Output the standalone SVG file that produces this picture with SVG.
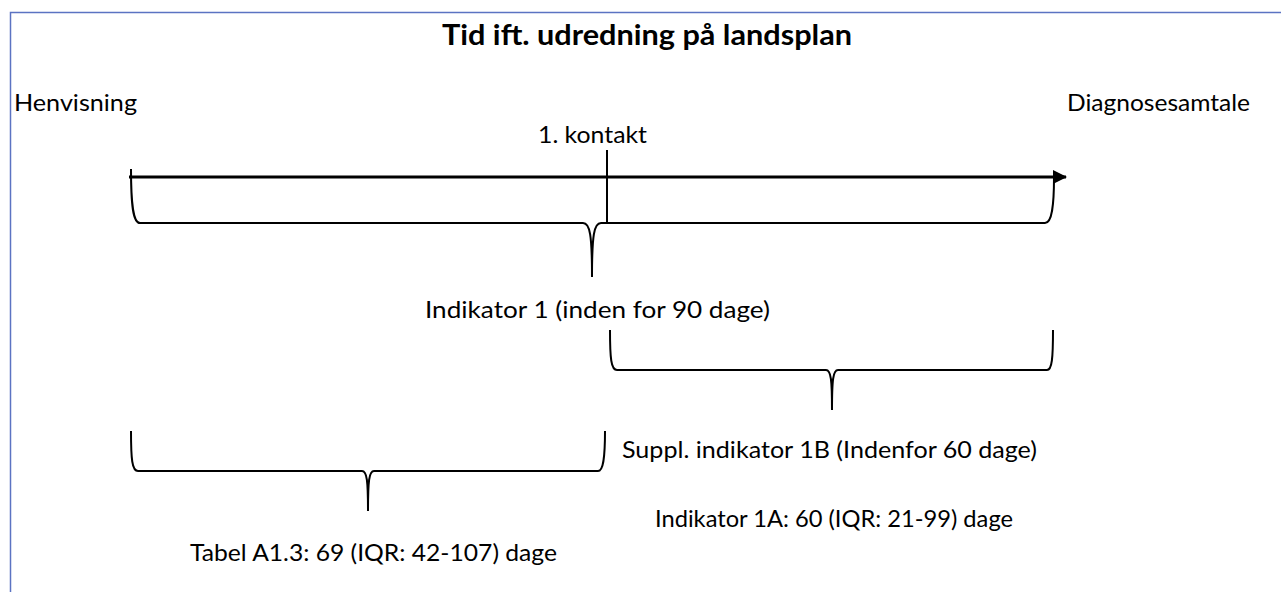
<svg xmlns="http://www.w3.org/2000/svg" width="1281" height="592" viewBox="0 0 1281 592">
<style>
text{font-family:Lato,"Open Sans","Liberation Sans",sans-serif;fill:#000;font-size:24px}
.t{font-weight:bold;font-size:28px}
.b{fill:none;stroke:#000;stroke-width:2}
.ax{fill:none;stroke:#000;stroke-width:3}
</style>
<defs>
<marker id="ah" markerUnits="userSpaceOnUse" markerWidth="14" markerHeight="14" refX="13" refY="7" orient="auto">
<path d="M0,0 L14,7 L0,14 Z" fill="#000"/>
</marker>
</defs>
<rect width="1281" height="592" fill="#fff"/>
<path d="M10.5,592 L10.5,12.5 L1281,12.5" fill="none" stroke="#5B73C2" stroke-width="1.5"/>
<g id="title"><text class="t" x="442" y="45" textLength="410" lengthAdjust="spacingAndGlyphs">Tid ift. udredning på landsplan</text></g>
<g id="henvisning"><text x="14" y="111" textLength="123" lengthAdjust="spacingAndGlyphs">Henvisning</text></g>
<g id="diagnosesamtale"><text x="1067" y="111" textLength="183" lengthAdjust="spacingAndGlyphs">Diagnosesamtale</text></g>
<g id="kontakt"><text x="538" y="143" textLength="109" lengthAdjust="spacingAndGlyphs">1. kontakt</text></g>
<g id="connectors">
<path class="ax" d="M129,177 L1066,177" marker-end="url(#ah)"/>
<path class="b" d="M607,150 L607,223"/>
<path class="b" d="M131,169 C131,205 133,223 140,223 L583,223 C590,223 592,235 592,277 C592,235 594,223 601,223 L1045,223 C1052,223 1054,205 1054,177"/>
<path class="b" d="M610,330 C610,358 611,370 617,370 L826,370 C831,370 832,380 832,410 C832,380 833,370 838,370 L1047,370 C1052,370 1053,358 1053,330"/>
<path class="b" d="M131,431 C131,459 132,471 138,471 L362,471 C367,471 368,481 368,511 C368,481 369,471 374,471 L598,471 C603,471 605,459 605,431"/>
</g>
<g id="ind1"><text x="425" y="318" textLength="345" lengthAdjust="spacingAndGlyphs">Indikator 1 (inden for 90 dage)</text></g>
<g id="ind1b"><text x="622" y="458" textLength="415" lengthAdjust="spacingAndGlyphs">Suppl. indikator 1B (Indenfor 60 dage)</text></g>
<g id="ind1a"><text x="655" y="527" textLength="358" lengthAdjust="spacingAndGlyphs">Indikator 1A: 60 (IQR: 21-99) dage</text></g>
<g id="tabel"><text x="190" y="561" textLength="367" lengthAdjust="spacingAndGlyphs">Tabel A1.3: 69 (IQR: 42-107) dage</text></g>
</svg>
